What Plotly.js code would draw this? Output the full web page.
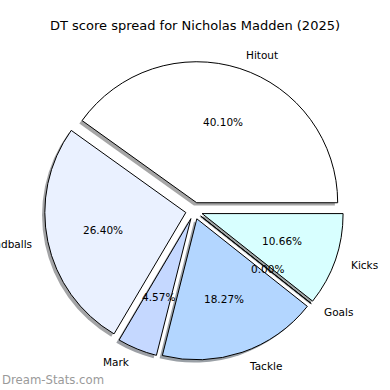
<!DOCTYPE html>
<html>
<head>
<meta charset="utf-8">
<script src="https://cdn.plot.ly/plotly-3.0.1.min.js"></script>
<style>html,body{margin:0;padding:0;background:#fff;}#chart{width:390px;height:390px;}</style>
</head>
<body>
<div id="chart"></div>
<script>
// ---- data ----
const categories = ["Hitout", "Handballs", "Mark", "Tackle", "Goals", "Kicks"];
const values = [40.10, 26.40, 4.57, 18.27, 0.00, 10.66];
const colors = ["#ffffff", "#eaf1ff", "#c5d8ff", "#b3d6ff", "#cfe6ff", "#d8ffff"];
const titleText = "DT score spread for Nicholas Madden (2025)";
const watermark = "Dream-Stats.com";

// ---- geometry (pixels) ----
const W = 390, H = 390;
const CX = 194.1, CY = 210.8, R = 141;
const PULL = 0.06;
const SH = 2.8; // shadow offset
const half = R * (1 + PULL);

function dom(cx, cy) {
  return {x: [(cx - half) / W, (cx + half) / W], y: [1 - (cy + half) / H, 1 - (cy - half) / H]};
}
function shade(hex) {
  const n = parseInt(hex.slice(1), 16);
  const c = [(n >> 16) & 255, (n >> 8) & 255, n & 255].map(v => Math.round(v * 0.3 * 0.5 + 255 * 0.5));
  return "rgb(" + c.join(",") + ")";
}

// slices laid clockwise from 3 o'clock in reversed order == counterclockwise in original order
const rev = a => a.slice().reverse();
const base = {
  type: "pie", labels: rev(categories), values: rev(values), sort: false,
  direction: "clockwise", rotation: 90, pull: values.map(() => PULL),
  textinfo: "none", hoverinfo: "label+percent", showlegend: false
};
const shadow = Object.assign({}, base, {
  domain: dom(CX - SH, CY + SH),
  marker: {colors: rev(colors).map(shade), line: {width: 0}}
});
const main = Object.assign({}, base, {
  domain: dom(CX, CY),
  marker: {colors: rev(colors), line: {color: "#000", width: 1}}
});

// ---- text positions derived from data (matplotlib-style) ----
const total = values.reduce((a, b) => a + b, 0);
const annotations = [];
let cum = 0;
values.forEach((v, i) => {
  const a0 = cum / total * 2 * Math.PI;
  cum += v;
  const a1 = cum / total * 2 * Math.PI;
  const mid = (a0 + a1) / 2;
  const ux = Math.cos(mid), uy = -Math.sin(mid);
  const ox = CX + PULL * R * ux, oy = CY + PULL * R * uy;
  const lx = ox + 1.1 * R * ux, ly = oy + 1.1 * R * uy;
  const px = ox + 0.6 * R * ux, py = oy + 0.6 * R * uy;
  annotations.push({
    xref: "paper", yref: "paper", x: lx / W, y: 1 - ly / H,
    xanchor: ux > 0 ? "left" : "right", yanchor: "middle",
    text: categories[i], showarrow: false,
    font: {family: "DejaVu Sans", size: 10.5, color: "#000"}
  });
  annotations.push({
    xref: "paper", yref: "paper", x: px / W, y: 1 - py / H,
    xanchor: "center", yanchor: "middle",
    text: (v / total * 100).toFixed(2) + "%", showarrow: false,
    font: {family: "DejaVu Sans", size: 10.5, color: "#000"}
  });
});
annotations.push({
  xref: "paper", yref: "paper", x: 0, y: 1 - 380 / H, xanchor: "left", yanchor: "middle",
  text: watermark, showarrow: false,
  font: {family: "DejaVu Sans", size: 11.7, color: "#9a9a9a"}
});

const layout = {
  width: W, height: H,
  margin: {l: 0, r: 0, t: 0, b: 0},
  paper_bgcolor: "#fff", plot_bgcolor: "#fff",
  title: {text: titleText, x: 0.5, xanchor: "center", y: 1 - 25 / H, yanchor: "middle", yref: "container",
    font: {family: "DejaVu Sans", size: 13, color: "#000"}},
  annotations: annotations
};
Plotly.newPlot("chart", [shadow, main], layout, {displayModeBar: false, staticPlot: true});
</script>
</body>
</html>
